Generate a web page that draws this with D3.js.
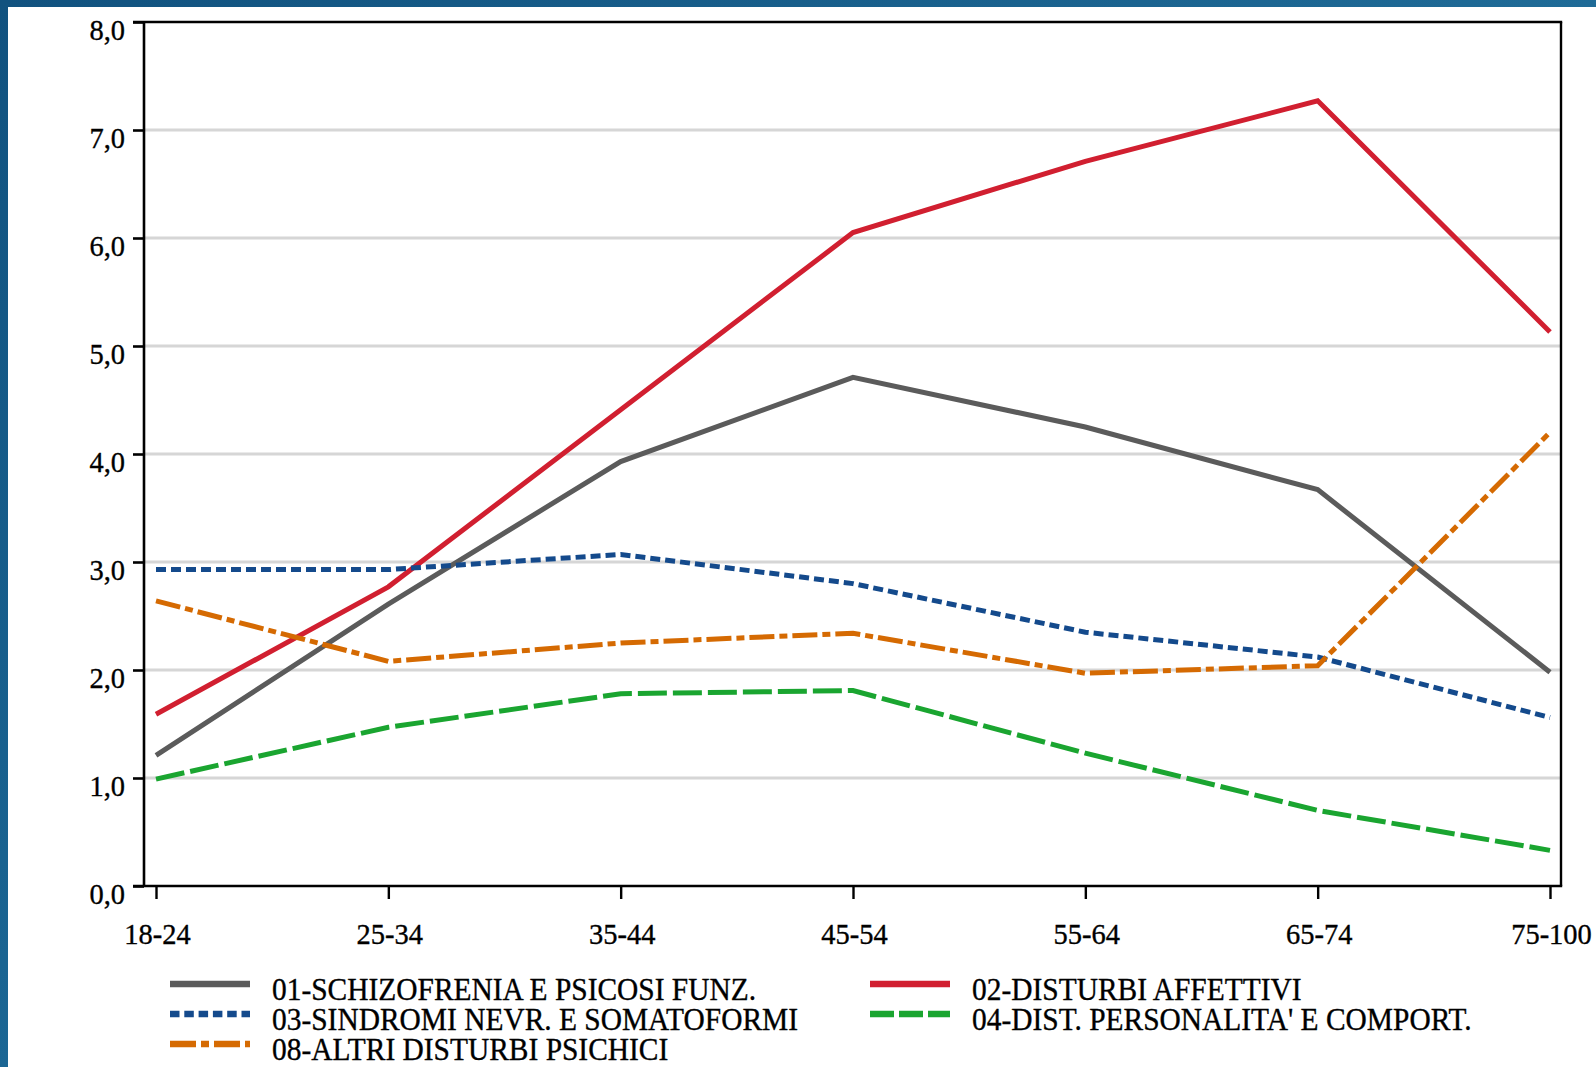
<!DOCTYPE html>
<html><head><meta charset="utf-8">
<script src="https://cdn.jsdelivr.net/npm/d3@7"></script>
<style>html,body{margin:0;padding:0;background:#fff;overflow:hidden;} svg{display:block;}</style>
</head><body>
<svg id="chart" width="1596" height="1067"></svg>
<script>
// ---- data ----
const categories = ["18-24","25-34","35-44","45-54","55-64","65-74","75-100"];
const yTickValues = [0,1,2,3,4,5,6,7,8];
const seriesNames = [
  "01-SCHIZOFRENIA E PSICOSI FUNZ.",
  "02-DISTURBI AFFETTIVI",
  "03-SINDROMI NEVR. E SOMATOFORMI",
  "04-DIST. PERSONALITA' E COMPORT.",
  "08-ALTRI DISTURBI PSICHICI"
];
const schizofrenia = [1.21, 2.61, 3.93, 4.71, 4.25, 3.67, 1.98];
const affettivi    = [1.59, 2.77, 4.41, 6.05, 6.71, 7.27, 5.13];
const nevrotiche   = [2.93, 2.93, 3.07, 2.80, 2.35, 2.12, 1.56];
const personalita  = [0.99, 1.47, 1.78, 1.81, 1.23, 0.70, 0.33];
const altri        = [2.64, 2.08, 2.25, 2.34, 1.97, 2.04, 4.20];

// ---- styles (kept separate from data) ----
const seriesValues = [schizofrenia, affettivi, nevrotiche, personalita, altri];
const seriesStyle = [
  {color:"#5b5b5b", dash:null,          ldash:null},
  {color:"#d11f30", dash:null,          ldash:null},
  {color:"#144a8c", dash:"10,5",        ldash:"9.5,4.8"},
  {color:"#1aa530", dash:"29,6",        ldash:"24,5"},
  {color:"#d56a02", dash:"25,5,8,5",    ldash:"26,5,8,5"}
];
const legendPos = [ [0,0], [1,0], [0,1], [1,1], [0,2] ];

const svg = d3.select("#chart");
const W = 1596, H = 1067;
const frame = {left:144, right:1561, top:22, bottom:886};

// blue border
const defs = svg.append("defs");
const grad = defs.append("linearGradient").attr("id","bandGrad").attr("x1","0").attr("x2","1").attr("y1","0").attr("y2","0");
grad.append("stop").attr("offset","0").attr("stop-color","#11527f");
grad.append("stop").attr("offset","1").attr("stop-color","#1f6b97");
const gradV = defs.append("linearGradient").attr("id","bandGradV").attr("x1","0").attr("x2","0").attr("y1","0").attr("y2","1");
gradV.append("stop").attr("offset","0").attr("stop-color","#11527f");
gradV.append("stop").attr("offset","1").attr("stop-color","#1b6694");
svg.append("rect").attr("x",0).attr("y",0).attr("width",W).attr("height",7).attr("fill","url(#bandGrad)");
svg.append("rect").attr("x",0).attr("y",0).attr("width",8).attr("height",H).attr("fill","url(#bandGradV)");

const x = d3.scalePoint().domain(categories).range([156, 1550]);
const y = d3.scaleLinear().domain([0, 8]).range([frame.bottom, frame.top]);

const locale = d3.formatLocale({decimal:",", thousands:".", grouping:[3], currency:["€",""]});
const fmt = locale.format(".1f");

const fontFamily = "'Liberation Serif','Times New Roman',Times,serif";

// gridlines
svg.append("g").selectAll("line")
  .data(yTickValues.filter(v => v > 0 && v < 8))
  .join("line")
  .attr("x1", frame.left).attr("x2", frame.right)
  .attr("y1", d => y(d)).attr("y2", d => y(d))
  .attr("stroke", "#d6d6d6").attr("stroke-width", 3);

// y axis ticks + labels
const yAxis = d3.axisLeft(y).tickValues(yTickValues).tickFormat(fmt).tickSize(11).tickSizeOuter(0);
const gy = svg.append("g").attr("transform", `translate(${frame.left},0)`).call(yAxis);
gy.select(".domain").remove();
gy.selectAll(".tick line").attr("stroke","#000").attr("stroke-width",2.6);
gy.selectAll(".tick text")
  .attr("x", 0).attr("dy", null).attr("y", 17)
  .attr("transform", "translate(-19,0) scale(0.95,1)")
  .attr("font-family", fontFamily).attr("font-size", 30).attr("fill","#000")
  .attr("stroke","#000").attr("stroke-width",0.35)
  .attr("text-anchor","end");

// x axis ticks + labels
const xAxis = d3.axisBottom(x).tickSize(13).tickSizeOuter(0);
const gx = svg.append("g").attr("transform", `translate(0,${frame.bottom})`).call(xAxis);
gx.select(".domain").remove();
gx.selectAll(".tick line").attr("stroke","#000").attr("stroke-width",2.4);
gx.selectAll(".tick text")
  .attr("y", 0).attr("dy", null)
  .attr("transform", "translate(1,58) scale(0.95,1)")
  .attr("font-family", fontFamily).attr("font-size", 30).attr("fill","#000")
  .attr("stroke","#000").attr("stroke-width",0.35)
  .attr("text-anchor","middle");

// frame lines
const frameG = svg.append("g").attr("stroke","#000").attr("fill","none");
frameG.append("line").attr("x1", 133).attr("x2", frame.right + 1.2).attr("y1", frame.top).attr("y2", frame.top).attr("stroke-width", 2.6);
frameG.append("line").attr("x1", frame.right).attr("x2", frame.right).attr("y1", frame.top).attr("y2", frame.bottom).attr("stroke-width", 2.4);
frameG.append("line").attr("x1", frame.left).attr("x2", frame.left).attr("y1", frame.top).attr("y2", frame.bottom + 1).attr("stroke-width", 2.6);
frameG.append("line").attr("x1", 133).attr("x2", frame.right + 1.2).attr("y1", frame.bottom).attr("y2", frame.bottom).attr("stroke-width", 2.6);

// series lines
const line = d3.line().x((d,i) => x(categories[i])).y(d => y(d));
const drawOrder = [0,1,2,3,4];
const linesG = svg.append("g");
drawOrder.forEach(k => {
  linesG.append("path")
    .datum(seriesValues[k])
    .attr("d", line)
    .attr("fill","none")
    .attr("stroke", seriesStyle[k].color)
    .attr("stroke-width", 5)
    .attr("stroke-linejoin","miter")
    .attr("stroke-dasharray", seriesStyle[k].dash);
});

// legend
const legend = svg.append("g");
const colX = [170, 870], rowY = [984, 1014, 1044];
seriesNames.forEach((name, k) => {
  const [c, r] = legendPos[k];
  const lx = colX[c], ly = rowY[r];
  legend.append("line")
    .attr("x1", lx).attr("x2", lx + 80).attr("y1", ly).attr("y2", ly)
    .attr("stroke", seriesStyle[k].color).attr("stroke-width", 6.5)
    .attr("stroke-dasharray", seriesStyle[k].ldash);
  legend.append("text")
    .attr("transform", `translate(${lx + 102},${ly + 16}) scale(0.95,1)`)
    .attr("font-family", fontFamily).attr("font-size", 31).attr("fill","#000")
    .attr("stroke","#000").attr("stroke-width",0.35)
    .text(name);
});
</script>
</body></html>
